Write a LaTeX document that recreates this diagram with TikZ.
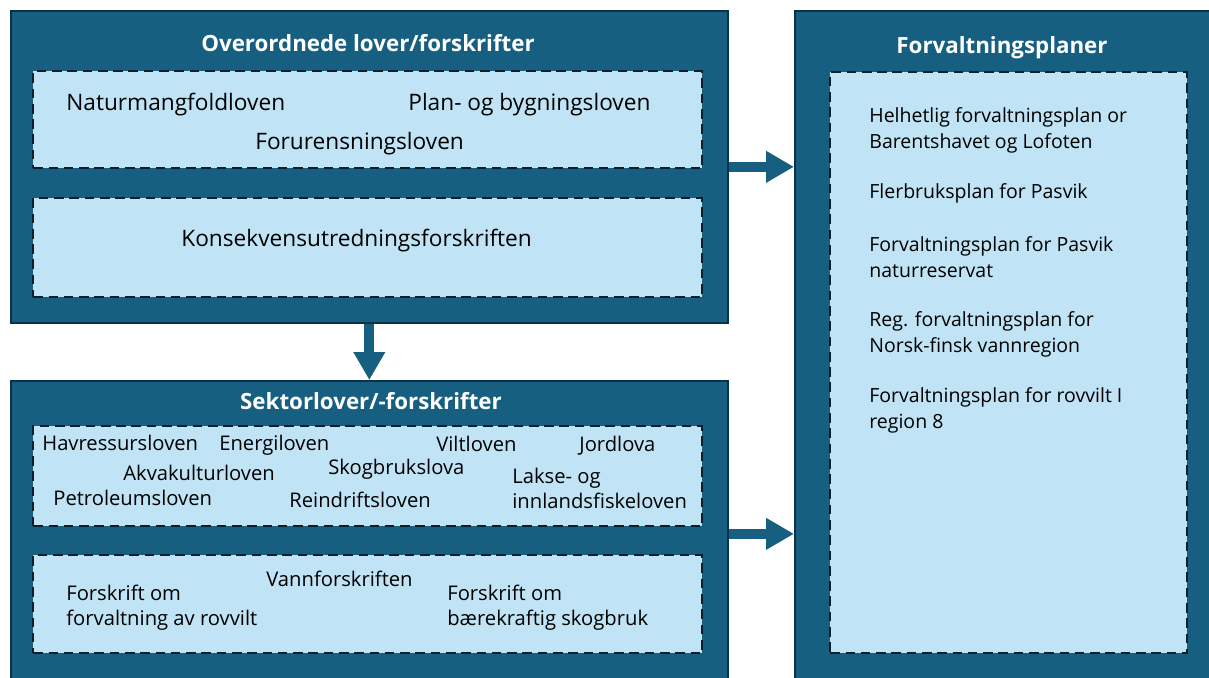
\documentclass[tikz,border=0pt]{standalone}
\usepackage{fontspec}
\setmainfont{Open Sans}
\usetikzlibrary{arrows.meta}
\definecolor{boxblue}{RGB}{22,95,129}
\definecolor{boxedge}{RGB}{12,50,70}
\definecolor{paneblue}{RGB}{192,228,245}
\definecolor{dashink}{RGB}{10,30,45}
\tikzset{
  outerbox/.style={draw=boxedge, fill=boxblue, line width=1pt, anchor=north west, inner sep=0pt},
  pane/.style={draw=dashink, fill=paneblue, line width=1.4pt, dash pattern=on 5.5pt off 3.2pt, anchor=north west, inner sep=0pt},
  boxtitle/.style={text=white, inner sep=0pt, font=\bfseries\fontsize{12.7}{15}\selectfont},
  bigtext/.style={anchor=west, inner sep=0pt, font=\fontsize{12.9}{15}\selectfont},
  lawtext/.style={anchor=west, inner sep=0pt, align=left, font=\fontsize{11.5}{14.2}\selectfont},
  plantext/.style={anchor=west, inner sep=0pt, align=left, font=\fontsize{11.1}{14.8}\selectfont},
  blockarrow/.style={draw=boxblue, line width=0.2cm, -{Triangle[width=0.6cm,length=0.56cm]}}
}
\begin{document}
\begin{tikzpicture}[x=0.02cm,y=-0.02cm]
  \useasboundingbox (0,0) rectangle (1209,677);
  % outer boxes
  \node[outerbox, minimum width=14.34cm, minimum height=6.24cm] (topbox) at (10,10) {};
  \node[outerbox, minimum width=14.34cm, minimum height=6.12cm] (sektorbox) at (10,380) {};
  \node[outerbox, minimum width=8.6cm, minimum height=13.52cm] (planbox) at (794,10) {};
  % dashed panes
  \node[pane, minimum width=13.38cm, minimum height=1.94cm] (lovpane) at (32,70) {};
  \node[pane, minimum width=13.38cm, minimum height=1.98cm] (kupane) at (32,197) {};
  \node[pane, minimum width=13.38cm, minimum height=2.0cm] (sektorpane) at (32,425) {};
  \node[pane, minimum width=13.38cm, minimum height=1.96cm] (forskriftpane) at (32,554) {};
  \node[pane, minimum width=7.14cm, minimum height=11.62cm] (planpane) at (829,71) {};
  % titles
  \node[boxtitle] (toptitle) at (368,43) {Overordnede lover/forskrifter};
  \node[boxtitle] (sektortitle) at (371,401) {Sektorlover/-forskrifter};
  \node[boxtitle] (plantitle) at (1002,48) {Forvaltningsplaner};
  % overordnede lover
  \node[bigtext] (naturmangfold) at (66,105) {Naturmangfoldloven};
  \node[bigtext] (pbl) at (408,105) {Plan- og bygningsloven};
  \node[bigtext] (forurensning) at (255,144) {Forurensningsloven};
  \node[bigtext] (kuforskrift) at (181,241) {Konsekvensutredningsforskriften};
  % sektorlover
  \node[lawtext] (havressurs) at (42,443) {Havressursloven};
  \node[lawtext] (energi) at (219,445) {Energiloven};
  \node[lawtext] (vilt) at (436,444) {Viltloven};
  \node[lawtext] (jord) at (579,446) {Jordlova};
  \node[lawtext] (akvakultur) at (123,473) {Akvakulturloven};
  \node[lawtext] (skogbruk) at (328,469) {Skogbrukslova};
  \node[lawtext] (lakse) at (512,488) {Lakse- og\\innlandsfiskeloven};
  \node[lawtext] (petroleum) at (53,498) {Petroleumsloven};
  \node[lawtext] (reindrift) at (289,500) {Reindriftsloven};
  % forskrifter
  \node[lawtext] (vannforskrift) at (266,579) {Vannforskriften};
  \node[lawtext] (rovviltforskrift) at (66,608) {Forskrift om\\forvaltning av rovvilt};
  \node[lawtext] (skogforskrift) at (447,608) {Forskrift om\\bærekraftig skogbruk};
  % forvaltningsplaner
  \node[plantext] (helhetlig) at (869,130) {Helhetlig forvaltningsplan or\\Barentshavet og Lofoten};
  \node[plantext] (flerbruk) at (869,193) {Flerbruksplan for Pasvik};
  \node[plantext] (pasvikplan) at (869,257) {Forvaltningsplan for Pasvik\\naturreservat};
  \node[plantext] (vannregion) at (869,334) {Reg. forvaltningsplan for\\Norsk-finsk vannregion};
  \node[plantext] (rovviltplan) at (869,410) {Forvaltningsplan for rovvilt I\\region 8};
  % arrows
  \draw[blockarrow] (topbox.south) -- (sektorbox.north);
  \draw[blockarrow] (topbox.east) -- (topbox.east -| planbox.west);
  \draw[blockarrow] (sektorbox.east) -- (sektorbox.east -| planbox.west);
\end{tikzpicture}
\end{document}
